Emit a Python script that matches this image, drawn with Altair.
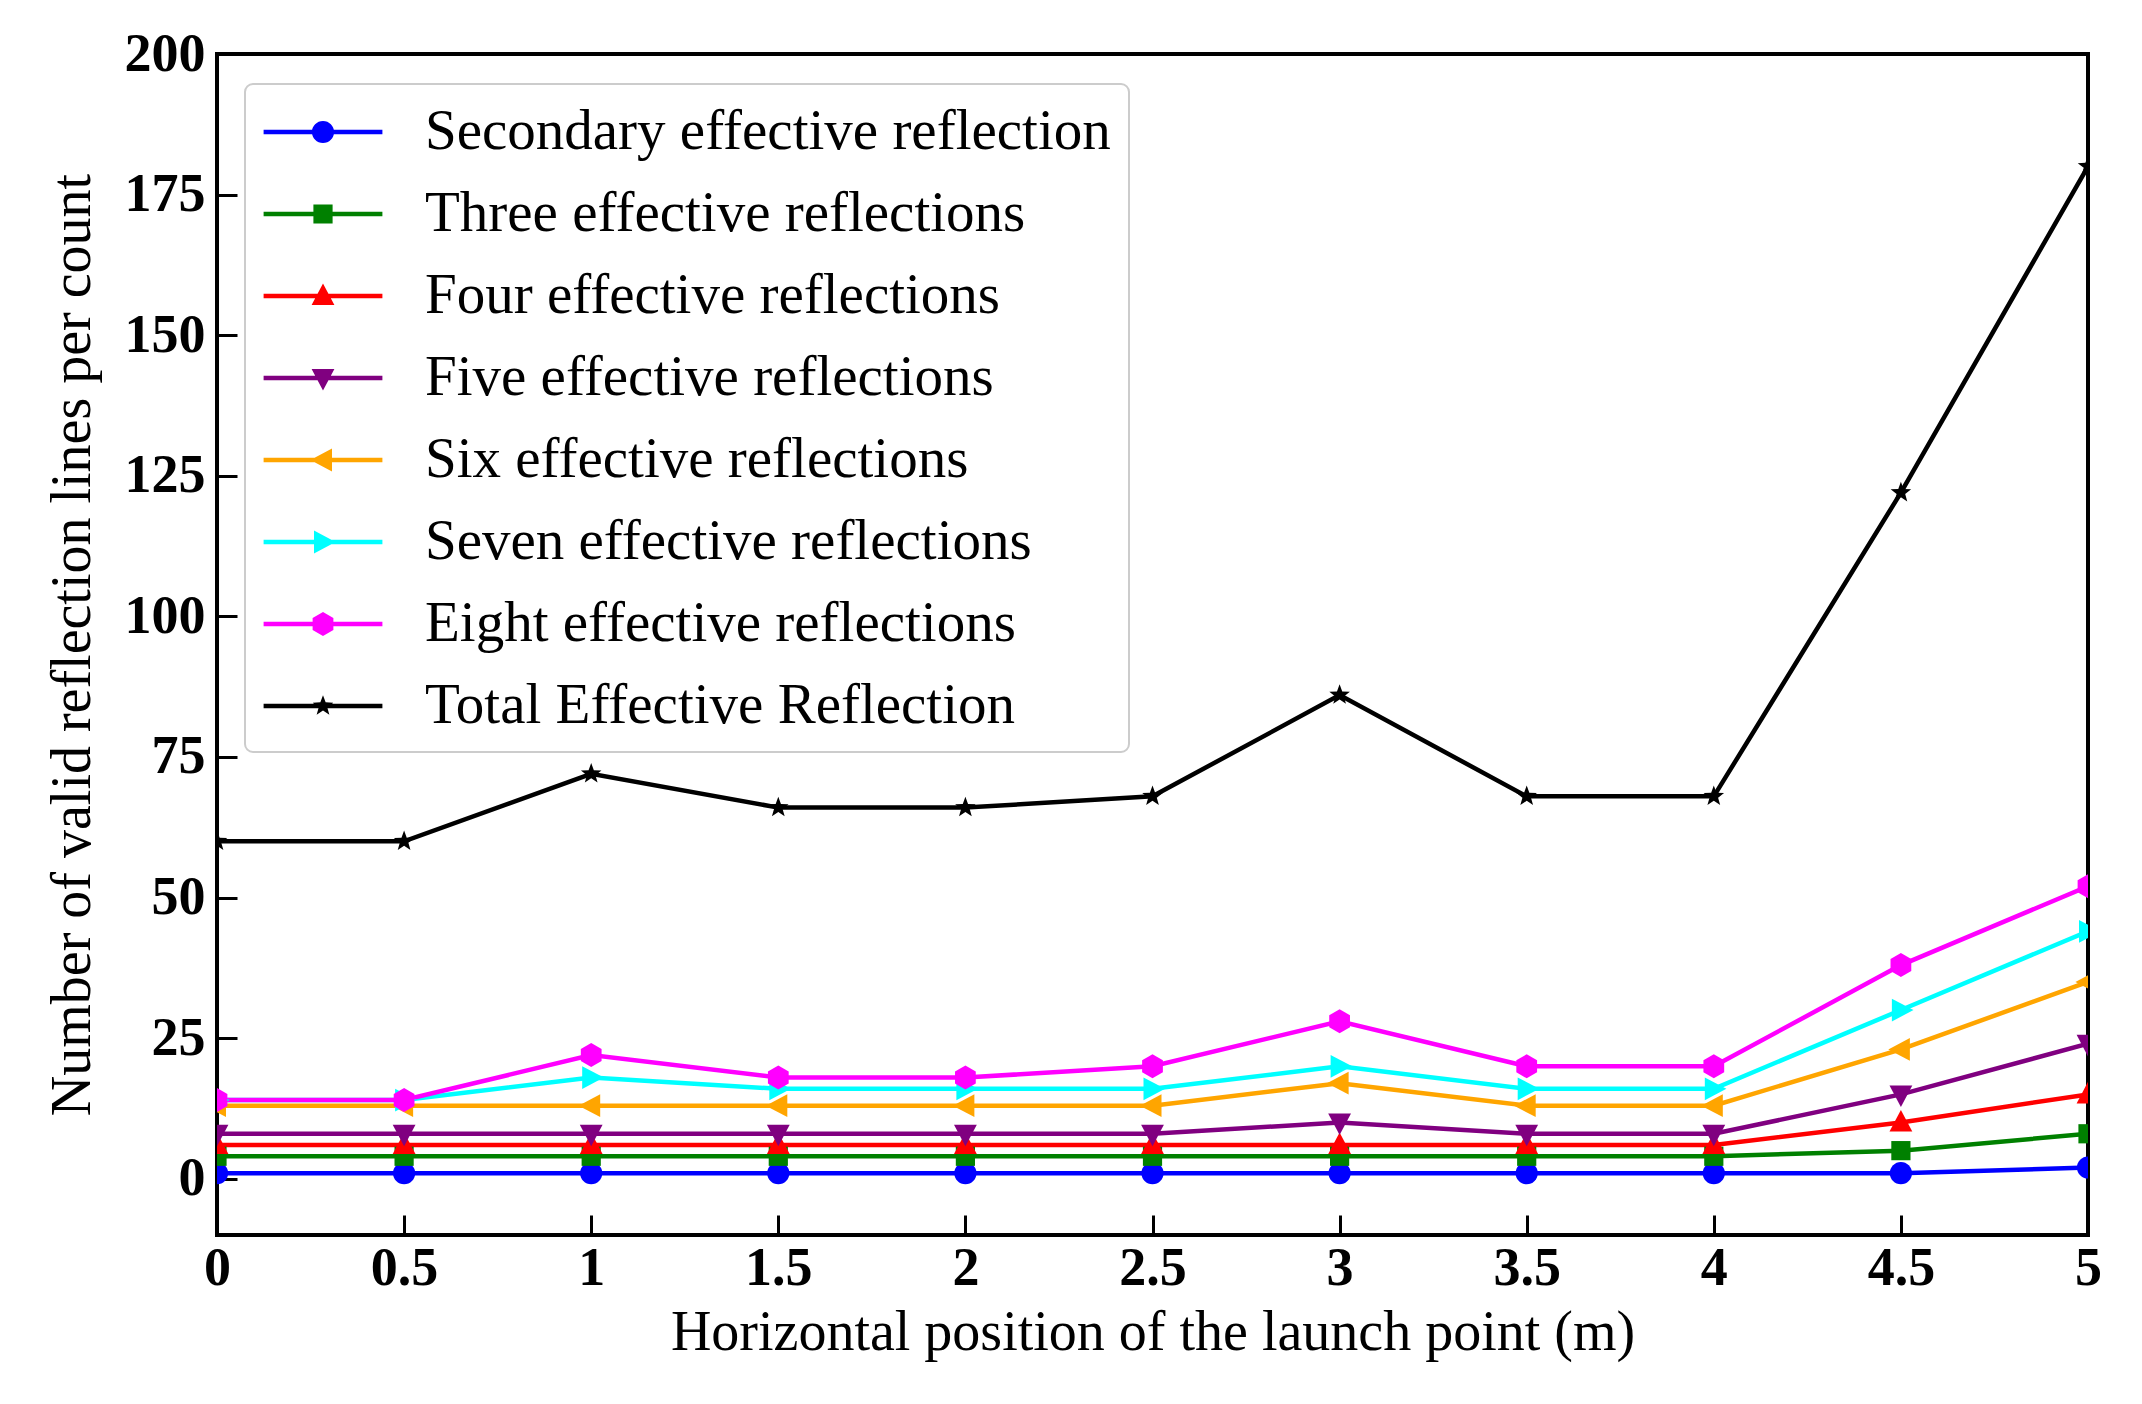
import math
import altair as alt
import pandas as pd

# ---------------- data ----------------
x_pos = [0, 0.5, 1, 1.5, 2, 2.5, 3, 3.5, 4, 4.5, 5]
secondary = [1, 1, 1, 1, 1, 1, 1, 1, 1, 1, 2]
three = [4, 4, 4, 4, 4, 4, 4, 4, 4, 5, 8]
four = [6, 6, 6, 6, 6, 6, 6, 6, 6, 10, 15]
five = [8, 8, 8, 8, 8, 8, 10, 8, 8, 15, 24]
six = [13, 13, 13, 13, 13, 13, 17, 13, 13, 23, 35]
seven = [14, 14, 18, 16, 16, 16, 20, 16, 16, 30, 44]
eight = [14, 14, 22, 18, 18, 20, 28, 20, 20, 38, 52]
total = [60, 60, 72, 66, 66, 68, 86, 68, 68, 122, 180]

series_names = [
    "Secondary effective reflection",
    "Three effective reflections",
    "Four effective reflections",
    "Five effective reflections",
    "Six effective reflections",
    "Seven effective reflections",
    "Eight effective reflections",
    "Total Effective Reflection",
]
series_values = [secondary, three, four, five, six, seven, eight, total]
colors = ["#0000ff", "#008000", "#ff0000", "#800080", "#ffa500", "#00ffff", "#ff00ff", "#000000"]

x_ticks = [0, 0.5, 1, 1.5, 2, 2.5, 3, 3.5, 4, 4.5, 5]
y_ticks = [0, 25, 50, 75, 100, 125, 150, 175, 200]

rows = []
for name, vals in zip(series_names, series_values):
    for xv, yv in zip(x_pos, vals):
        rows.append({"x": xv, "value": yv, "series": name})
df = pd.DataFrame(rows)

# ---------------- marker shapes (unit box, clockwise winding) ----------------
def poly(pts):
    return "M" + "L".join(f"{px:.3f},{py:.3f}" for px, py in pts) + "Z"

r = 0.37
circle = f"M{-r},0A{r},{r} 0 1,1 {r},0A{r},{r} 0 1,1 {-r},0Z"
square = poly([(-0.32, -0.32), (0.32, -0.32), (0.32, 0.32), (-0.32, 0.32)])
tri_up = poly([(0, -0.42), (0.38, 0.3), (-0.38, 0.3)])
tri_down = poly([(0, 0.42), (-0.38, -0.3), (0.38, -0.3)])
tri_left = poly([(-0.42, 0), (0.3, -0.38), (0.3, 0.38)])
tri_right = poly([(0.42, 0), (-0.3, 0.38), (-0.3, -0.38)])
hexa = poly([(0.4 * math.cos(math.radians(-90 + 60 * k)), 0.4 * math.sin(math.radians(-90 + 60 * k))) for k in range(6)])
star_pts = []
for k in range(10):
    rad = 0.36 if k % 2 == 0 else 0.15
    a = math.radians(-90 + 36 * k)
    star_pts.append((rad * math.cos(a), rad * math.sin(a)))
star = poly(star_pts)
markers = [circle, square, tri_up, tri_down, tri_left, tri_right, hexa, star]
line_seg = "M-1.98,-0.075L1.98,-0.075L1.98,0.075L-1.98,0.075Z"
legend_shapes = [line_seg + m for m in markers]

FONT = "Liberation Serif"
MSIZE = 3600

x_enc = alt.X(
    "x:Q",
    scale=alt.Scale(domain=[0, 5], nice=False, zero=False),
    axis=alt.Axis(values=x_ticks, format="~g", title="Horizontal position of the launch point (m)"),
)
y_enc = alt.Y(
    "value:Q",
    scale=alt.Scale(domain=[-10, 200], nice=False, zero=False),
    axis=alt.Axis(values=y_ticks, title="Number of valid reflection lines per count"),
)

lines = alt.Chart(df).mark_line(strokeWidth=4.5, clip=True).encode(
    x=x_enc,
    y=y_enc,
    color=alt.Color("series:N", scale=alt.Scale(domain=series_names, range=colors), legend=None),
    detail="series:N",
)

points = alt.Chart(df).mark_point(filled=True, size=MSIZE, opacity=1, clip=True).encode(
    x=x_enc,
    y=y_enc,
    color=alt.Color("series:N", scale=alt.Scale(domain=series_names, range=colors), legend=None),
    shape=alt.Shape("series:N", scale=alt.Scale(domain=series_names, range=markers), legend=None),
)

legend_layer = alt.Chart(df).transform_filter("false").mark_point(filled=True, size=MSIZE, opacity=1).encode(
    x=x_enc,
    y=y_enc,
    color=alt.Color("series:N", scale=alt.Scale(domain=series_names, range=colors), title=None,
                    legend=alt.Legend(orient="none", legendX=28, legendY=30)),
    shape=alt.Shape("series:N", scale=alt.Scale(domain=series_names, range=legend_shapes), title=None,
                    legend=alt.Legend(orient="none", legendX=28, legendY=30)),
)

chart = (
    alt.layer(lines, points, legend_layer)
    .resolve_scale(color="independent", shape="independent")
    .properties(
        width=1871,
        height=1181,
        autosize=alt.AutoSizeParams(type="none"),
        padding={"left": 209, "top": 46, "right": 40, "bottom": 160},
    )
    .configure_view(stroke="black", strokeWidth=4)
    .configure_axis(
        grid=False,
        domain=False,
        ticks=True,
        tickColor="black",
        tickWidth=3,
        tickSize=20,
        offset=-20,
        labelFont=FONT,
        labelFontWeight="bold",
        labelFontSize=54,
        labelColor="black",
        labelFlush=False,
        labelOverlap=False,
        titleFont=FONT,
        titleFontWeight="normal",
        titleFontSize=56,
        titleColor="black",
    )
    .configure_axisX(labelPadding=6, titlePadding=10)
    .configure_axisY(labelPadding=12, titlePadding=23)
    .configure_legend(
        labelFont=FONT,
        labelFontSize=57,
        labelColor="black",
        labelLimit=2000,
        symbolSize=MSIZE,
        symbolStrokeWidth=0,
        symbolOffset=30,
        labelOffset=72,
        padding=18,
        rowPadding=24,
        strokeColor="#cccccc",
        fillColor="white",
        cornerRadius=8,
        strokeWidth=2,
    )
)

chart.save("out.html", embed_options={"renderer": "svg", "actions": False})
